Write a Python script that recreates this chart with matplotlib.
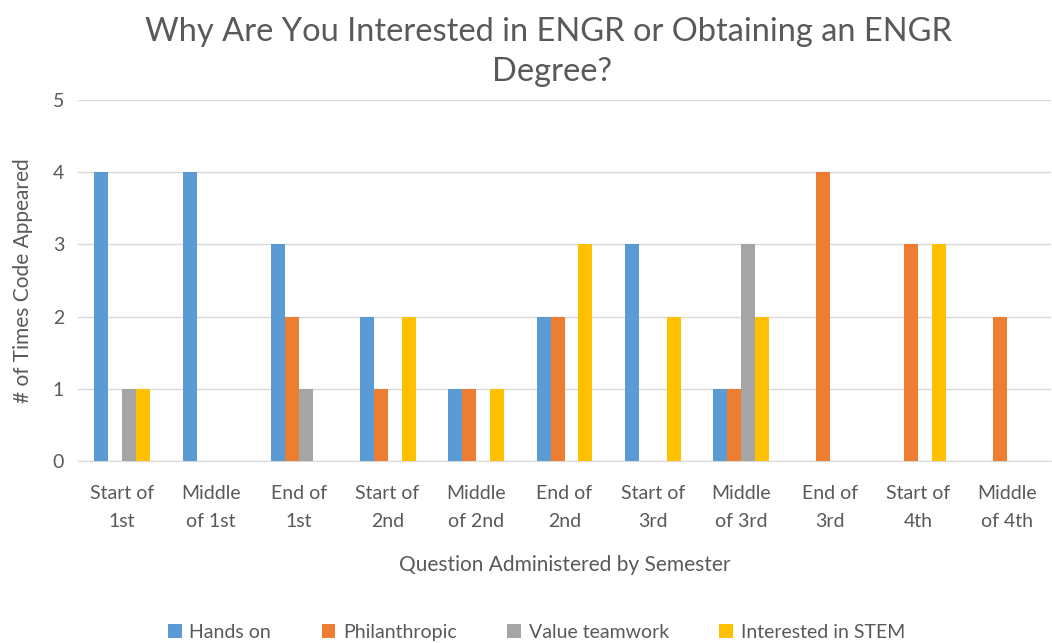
import matplotlib
matplotlib.use("Agg")
import matplotlib.pyplot as plt
import numpy as np

categories = ["Start of\n1st", "Middle\nof 1st", "End of\n1st", "Start of\n2nd", "Middle\nof 2nd",
              "End of\n2nd", "Start of\n3rd", "Middle\nof 3rd", "End of\n3rd", "Start of\n4th", "Middle\nof 4th"]
hands_on = [4, 4, 3, 2, 1, 2, 3, 1, 0, 0, 0]
philanthropic = [0, 0, 2, 1, 1, 2, 0, 1, 4, 3, 2]
value_teamwork = [1, 0, 1, 0, 0, 0, 0, 3, 0, 0, 0]
interested_stem = [1, 0, 0, 2, 1, 3, 2, 2, 0, 3, 0]
series_names = ["Hands on", "Philanthropic", "Value teamwork", "Interested in STEM"]
colors = ["#5B9BD5", "#ED7D31", "#A5A5A5", "#FFC000"]

plt.rcParams['font.family'] = ['Lato', 'DejaVu Sans']
fig = plt.figure(figsize=(10.52, 6.43), dpi=100)
ax = fig.add_axes([0.0741, 0.283, 0.925, 0.5615])

x = np.arange(len(categories))
w = 0.158
series = [hands_on, philanthropic, value_teamwork, interested_stem]
for i, (s, c, n) in enumerate(zip(series, colors, series_names)):
    ax.bar(x + (i - 1.5) * w, s, width=w, color=c, label=n, zorder=3)

ax.set_xlim(-0.5, len(categories) - 0.5)
ax.set_ylim(0, 5)
ax.set_yticks(range(0, 6))
ax.set_xticks(x)
ax.set_xticklabels(categories, fontsize=14, color="#595959", linespacing=1.8)
ax.tick_params(axis='y', labelsize=14, labelcolor="#595959", length=0, pad=10)
ax.tick_params(axis='x', length=0, pad=17)
ax.grid(axis='y', color="#D9D9D9", linewidth=1, zorder=0)
for sp in ['top', 'right', 'left']:
    ax.spines[sp].set_visible(False)
ax.spines['bottom'].set_color("#D9D9D9")
ax.set_xlabel("Question Administered by Semester", fontsize=15, color="#595959", labelpad=18)
ax.set_ylabel("# of Times Code Appeared", fontsize=15, color="#595959", labelpad=14)
fig.text(0.521, 0.95, "Why Are You Interested in ENGR or Obtaining an ENGR", ha='center', va='center',
         fontsize=23.5, color="#595959")
fig.text(0.525, 0.888, "Degree?", ha='center', va='center', fontsize=23.5, color="#595959")
fig.legend(loc='center', bbox_to_anchor=(0.51, 0.017), ncol=4, frameon=False, fontsize=14,
           labelcolor="#595959", handlelength=0.7, handleheight=0.7, columnspacing=2.6, handletextpad=0.4)
fig.savefig("out.png", dpi=100)
